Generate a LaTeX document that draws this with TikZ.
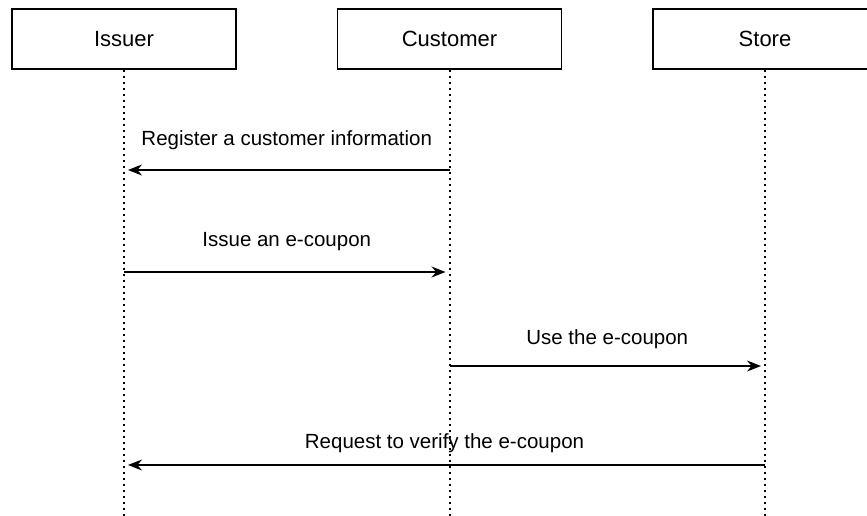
\documentclass[tikz,border=0pt]{standalone}
\usepackage{fontspec}
\setmainfont{Liberation Sans}
\usetikzlibrary{positioning,arrows.meta}

\begin{document}
\begin{tikzpicture}[x=1pt, y=-1pt,
    actor/.style={draw, line width=1.5pt, minimum width=224pt, minimum height=60pt,
      font=\fontsize{22}{26}\selectfont},
    lifeline/.style={line width=2pt, dash pattern=on 2pt off 4pt},
    msg/.style={line width=1.5pt, -{Stealth[length=14pt,width=11pt]}, shorten >=4pt},
    msglabel/.style={font=\fontsize{20.5}{24}\selectfont}]
    \useasboundingbox (0,0) rectangle (867,516);

    % Actors
    \node[actor] (issuer) at (124,39) {Issuer};
    \node[actor, right=100pt of issuer] (customer) {Customer};
    \node[actor, right=90pt of customer] (store) {Store};

    % Lifelines
    \foreach \who in {issuer, customer, store} {
      \coordinate (\who-end) at (\who.south |- 0,516);
      \draw[lifeline] (\who.south) -- (\who-end);
    }

    % Messages
    \foreach \src/\dst/\y/\dy/\txt in {
        customer/issuer/170/30pt/Register a customer information,
        issuer/customer/272/30pt/Issue an e-coupon,
        customer/store/366/27pt/Use the e-coupon,
        store/issuer/465/22pt/Request to verify the e-coupon} {
      \coordinate (from) at (\src |- 0,\y);
      \coordinate (to) at (\dst |- 0,\y);
      \draw[msg] (from) -- (to) node[msglabel, midway, yshift=\dy] {\txt};
    }

  \end{tikzpicture}
\end{document}
